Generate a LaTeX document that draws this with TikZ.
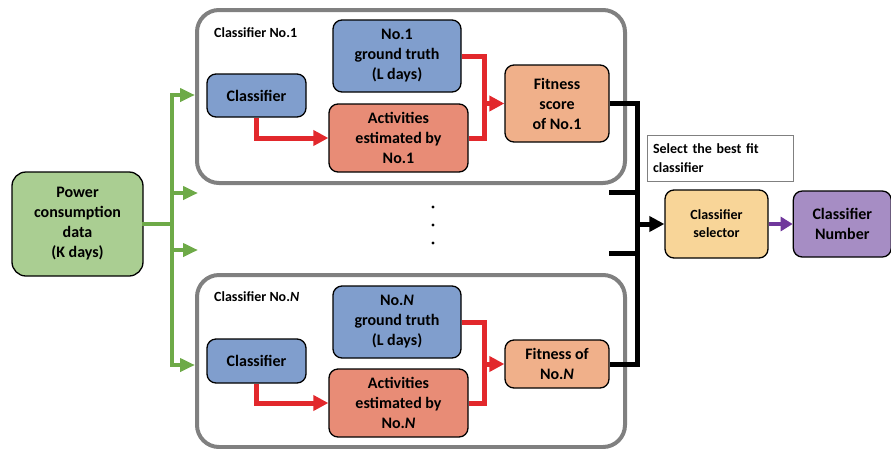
\documentclass[tikz,border=0pt]{standalone}
\usepackage{fontspec}
\setmainfont{Carlito}
\usepackage{tikz}
\usetikzlibrary{arrows.meta}
\usetikzlibrary{positioning}

\definecolor{pwrgreen}{RGB}{170,206,146}
\definecolor{clsblue}{RGB}{128,158,205}
\definecolor{actred}{RGB}{232,140,118}
\definecolor{fitorange}{RGB}{240,176,138}
\definecolor{selyellow}{RGB}{248,213,152}
\definecolor{numpurple}{RGB}{166,141,196}
\definecolor{grpgray}{RGB}{128,128,128}
\definecolor{linered}{RGB}{226,40,44}
\definecolor{linegreen}{RGB}{110,170,72}
\definecolor{linepurple}{RGB}{112,56,156}

\tikzstyle{box} = [
    rectangle, rounded corners=9pt, draw=black, line width=1.3pt,
    align=center, inner sep=0pt, font=\bfseries\fontsize{16}{20}\selectfont]
\tikzstyle{smallbox} = [box, font=\bfseries\fontsize{14}{18}\selectfont]
\tikzstyle{group} = [rectangle, rounded corners=22pt, draw=grpgray, line width=4pt,
    inner sep=0pt]
\tikzstyle{label} = [anchor=west, inner sep=0pt, font=\bfseries\fontsize{14}{18}\selectfont]
\tikzstyle{redline} = [line width=5pt, draw=linered]
\tikzstyle{redarrow} = [redline, -{Triangle[length=15pt,width=15pt]}]
\tikzstyle{greenline} = [line width=4pt, draw=linegreen, line cap=rect]
\tikzstyle{greenarrow} = [line width=4pt, draw=linegreen, -{Triangle[length=15pt,width=13pt]}]
\tikzstyle{blackline} = [line width=5pt, draw=black]
\tikzstyle{blackarrow} = [blackline, -{Triangle[length=15pt,width=15pt]}]

\begin{document}
\begin{tikzpicture}[x=1pt, y=-1pt]
\useasboundingbox (0,0) rectangle (891,448);

% classifier groups
\node (grp1) [group, minimum width=428pt, minimum height=173pt] at (411,96.5) {};
\node (grpN) [group, minimum width=428pt, minimum height=172pt] at (411,361) {};
\node (lab1) [label] at (214,33) {Classifier No.1};
\node (labN) [label] at (214,297) {Classifier No.\textit{N}};

\node (power) [box, fill=pwrgreen, rounded corners=14pt, minimum width=131pt, minimum height=104pt]
    at (77.5,224) {Power\\consumption\\data\\(K days)};

% group No.1
\node (cls1) [box, fill=clsblue, minimum width=99pt, minimum height=43pt] at (256.5,95.5) {Classifier};
\node (gt1) [box, fill=clsblue, minimum width=128pt, minimum height=72pt] at (397,56)
    {No.1\\ground truth\\(L days)};
\node (act1) [box, fill=actred, minimum width=139pt, minimum height=68pt] at (398.5,138)
    {Activities\\estimated by\\No.1};
\node (fit1) [box, fill=fitorange, minimum width=104pt, minimum height=77pt] at (557,103.5)
    {Fitness\\score\\of No.1};

% group No.N
\node (clsN) [box, fill=clsblue, minimum width=99pt, minimum height=44pt] at (256.5,361) {Classifier};
\node (gtN) [box, fill=clsblue, minimum width=128pt, minimum height=72pt] at (397,322)
    {No.\textit{N}\\ground truth\\(L days)};
\node (actN) [box, fill=actred, minimum width=139pt, minimum height=68pt] at (398.5,403)
    {Activities\\estimated by\\No.\textit{N}};
\node (fitN) [box, fill=fitorange, minimum width=104pt, minimum height=48pt] at (557,364)
    {Fitness of\\No.\textit{N}};

% selection
\node (sel) [smallbox, fill=selyellow, minimum width=103pt, minimum height=68pt] at (716.5,224)
    {Classifier\\selector};
\node (num) [box, fill=numpurple, minimum width=98pt, minimum height=66pt, right=24pt of sel]
    {Classifier\\Number};
\node (note) [rectangle, draw=grpgray, line width=0.8pt, minimum width=146pt, minimum height=46pt,
    text width=134pt, align=left, inner sep=0pt, font=\bfseries\fontsize{14}{19}\selectfont,
    above=8pt of sel, xshift=3.5pt] {Select the best fit\\classifier};

\fill (433,207) circle (1.6);
\fill (433,225) circle (1.6);
\fill (433,243) circle (1.6);

% green feed
\coordinate (gtop) at (172,95);
\coordinate (gbot) at (172,365);
\coordinate (gmid1) at (172,193);
\coordinate (gmid2) at (172,250);
\coordinate (gend1) at (198,193);
\coordinate (gend2) at (198,250);
\draw [greenline] (power.east) -- (power.east -| gtop);
\draw [greenline] (gtop) -- (gbot);
\draw [greenarrow] (gtop) -- (gtop -| grp1.west);
\draw [greenarrow] (gmid1) -- (gend1);
\draw [greenarrow] (gmid2) -- (gend2);
\draw [greenarrow] (gbot) -- (gbot -| grpN.west);

% red flows
\coordinate (join1) at (484,103.5);
\coordinate (joinN) at (484,364);
\draw [redarrow] (cls1.south) |- (act1.west);
\draw [redline] (gt1.east) -| (join1) |- (act1.east);
\draw [redarrow] (join1) -- (fit1.west);
\draw [redarrow] (clsN.south) |- (actN.west);
\draw [redline] (gtN.east) -| (joinN) |- (actN.east);
\draw [redarrow] (joinN) -- (fitN.west);

% black bus
\coordinate (bus) at (637,364);
\coordinate (stub1) at (609,192);
\coordinate (stub2) at (609,253);
\draw [blackline] (fit1.east) -| (bus) -- (fitN.east);
\draw [blackline] (stub1) -- (stub1 -| bus);
\draw [blackline] (stub2) -- (stub2 -| bus);
\draw [blackarrow] (sel.west -| bus) -- (sel.west);
\draw [line width=4pt, draw=linepurple, -{Triangle[length=12pt,width=14pt]}] (sel.east) -- (num.west);
\end{tikzpicture}
\end{document}
